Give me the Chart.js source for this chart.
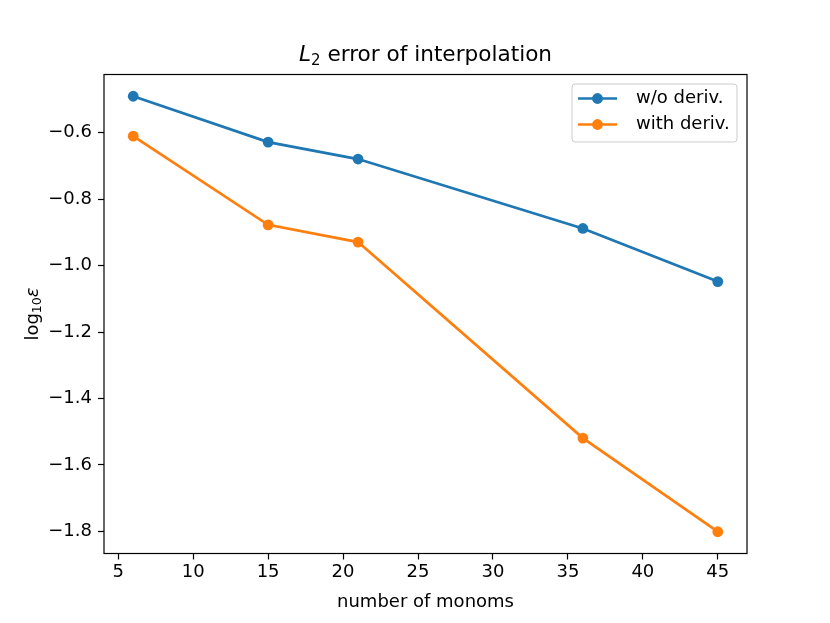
<!DOCTYPE html>
<html>
<head>
<meta charset="utf-8">
<script src="https://cdn.jsdelivr.net/npm/chart.js@4.4.1/dist/chart.umd.min.js"></script>
<style>
  html, body { margin: 0; padding: 0; background: #fff; }
  #wrap { width: 830px; height: 623px; }
</style>
</head>
<body>
<div id="wrap"><canvas id="chart" width="830" height="623"></canvas></div>
<script>
// data
const monoms = [6, 15, 21, 36, 45];
const errNoDeriv = [-0.490, -0.628, -0.679, -0.888, -1.048];
const errWithDeriv = [-0.610, -0.877, -0.929, -1.519, -1.801];
const seriesLabels = ['w/o deriv.', 'with deriv.'];
const xTicks = [5, 10, 15, 20, 25, 30, 35, 40, 45];
const yTicks = [-0.6, -0.8, -1.0, -1.2, -1.4, -1.6, -1.8];

const FONT = "'DejaVu Sans', sans-serif";
const BLUE = '#1f77b4';
const ORANGE = '#ff7f0e';

// matplotlib-like axis limits (5% margin)
function padRange(vals) {
  const lo = Math.min(...vals), hi = Math.max(...vals);
  const m = (hi - lo) * 0.05;
  return [lo - m, hi + m];
}
const xr = padRange(monoms);
const yr = padRange(errNoDeriv.concat(errWithDeriv));

const toPoints = ys => monoms.map((x, i) => ({ x: x, y: ys[i] }));

function fmt(v) {
  const s = Math.abs(v) < 1e-9 ? '0.0' : v.toFixed(1);
  return s.replace('-', '\u2212');
}

// box, title, axis labels and legend
const decor = {
  id: 'decor',
  afterDraw(chart) {
    const { ctx, chartArea: a } = chart;
    ctx.save();
    ctx.strokeStyle = '#000';
    ctx.lineWidth = 1.2;
    ctx.strokeRect(a.left, a.top, a.right - a.left, a.bottom - a.top);

    // title: L_2 error of interpolation
    const cx = (a.left + a.right) / 2;
    ctx.fillStyle = '#000';
    ctx.textBaseline = 'alphabetic';
    ctx.font = 'italic 21.6px ' + FONT;
    const wL = ctx.measureText('L').width;
    ctx.font = '15px ' + FONT;
    const w2 = ctx.measureText('2').width;
    ctx.font = '21.6px ' + FONT;
    const rest = ' error of interpolation';
    const wr = ctx.measureText(rest).width;
    let x = cx - (wL + w2 + wr) / 2;
    const by = 61;
    ctx.textAlign = 'left';
    ctx.font = 'italic 21.6px ' + FONT;
    ctx.fillText('L', x, by); x += wL;
    ctx.font = '15px ' + FONT;
    ctx.fillText('2', x, by + 3.5); x += w2;
    ctx.font = '21.6px ' + FONT;
    ctx.fillText(rest, x, by);

    // x label
    ctx.font = '18px ' + FONT;
    ctx.textAlign = 'center';
    ctx.textBaseline = 'alphabetic';
    ctx.fillText('number of monoms', cx, 607);

    // y label: log10 eps, rotated
    ctx.save();
    ctx.translate(38, (a.top + a.bottom) / 2);
    ctx.rotate(-Math.PI / 2);
    ctx.textBaseline = 'alphabetic';
    ctx.textAlign = 'left';
    ctx.font = '18px ' + FONT;
    const wlog = ctx.measureText('log').width;
    ctx.font = '12.6px ' + FONT;
    const w10 = ctx.measureText('10').width;
    ctx.font = 'italic 18px ' + FONT;
    const we = ctx.measureText('\u03b5').width;
    let yx = -(wlog + w10 + we) / 2;
    ctx.font = '18px ' + FONT;
    ctx.fillText('log', yx, 0); yx += wlog;
    ctx.font = '12.6px ' + FONT;
    ctx.fillText('10', yx, 3); yx += w10;
    ctx.font = 'italic 18px ' + FONT;
    ctx.fillText('\u03b5', yx, 0);
    ctx.restore();

    // legend
    const lx = 572, ly = 84, lw = 165, lh = 58;
    ctx.beginPath();
    ctx.roundRect(lx, ly, lw, lh, 3);
    ctx.fillStyle = 'rgba(255,255,255,0.8)';
    ctx.fill();
    ctx.strokeStyle = '#cccccc';
    ctx.lineWidth = 1;
    ctx.stroke();
    chart.data.datasets.forEach((ds, i) => {
      const ry = 98.5 + i * 26;
      ctx.strokeStyle = ds.borderColor;
      ctx.lineWidth = 2.7;
      ctx.beginPath();
      ctx.moveTo(578, ry);
      ctx.lineTo(617, ry);
      ctx.stroke();
      ctx.fillStyle = ds.backgroundColor;
      ctx.beginPath();
      ctx.arc(597.5, ry, 5.4, 0, Math.PI * 2);
      ctx.fill();
      ctx.fillStyle = '#000';
      ctx.font = '18px ' + FONT;
      ctx.textAlign = 'left';
      ctx.textBaseline = 'middle';
      ctx.fillText(ds.label, 636, ry);
    });
    ctx.restore();
  }
};

const tickStyle = { color: '#000', font: { family: FONT, size: 18 } };

new Chart(document.getElementById('chart'), {
  type: 'line',
  data: {
    datasets: [
      {
        label: seriesLabels[0],
        data: toPoints(errNoDeriv),
        borderColor: BLUE,
        backgroundColor: BLUE,
        borderWidth: 2.7,
        pointRadius: 5.4,
        pointBorderWidth: 0,
        pointHoverRadius: 5.4
      },
      {
        label: seriesLabels[1],
        data: toPoints(errWithDeriv),
        borderColor: ORANGE,
        backgroundColor: ORANGE,
        borderWidth: 2.7,
        pointRadius: 5.4,
        pointBorderWidth: 0,
        pointHoverRadius: 5.4
      }
    ]
  },
  options: {
    responsive: false,
    animation: false,
    devicePixelRatio: 1,
    layout: { padding: { left: 0, right: 83, top: 74.5, bottom: 0 } },
    plugins: {
      legend: { display: false },
      title: { display: false },
      tooltip: { enabled: false }
    },
    scales: {
      x: {
        type: 'linear',
        min: xr[0],
        max: xr[1],
        afterBuildTicks: s => { s.ticks = xTicks.map(v => ({ value: v })); },
        afterFit: s => { s.height = 69.5; },
        grid: { drawOnChartArea: false, tickLength: 6, tickColor: '#000', tickWidth: 1.2 },
        border: { display: false },
        ticks: Object.assign({ padding: 2, maxRotation: 0, callback: v => String(v) }, tickStyle)
      },
      y: {
        type: 'linear',
        min: yr[0],
        max: yr[1],
        afterBuildTicks: s => { s.ticks = yTicks.map(v => ({ value: v })); },
        afterFit: s => { s.width = 104; },
        grid: { drawOnChartArea: false, tickLength: 6, tickColor: '#000', tickWidth: 1.2 },
        border: { display: false },
        ticks: Object.assign({ padding: 6, callback: v => fmt(v) }, tickStyle)
      }
    }
  },
  plugins: [decor]
});
</script>
</body>
</html>
